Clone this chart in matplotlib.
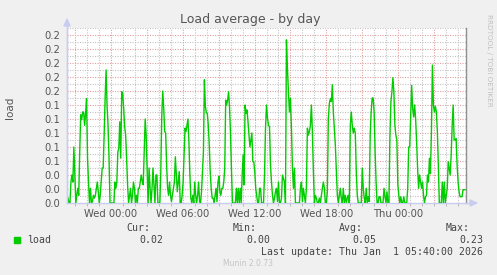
import numpy as np
import pandas as pd
import matplotlib
matplotlib.use("Agg")
import matplotlib.pyplot as plt
import matplotlib.dates as mdates

# load average samples (5 min) in four stretches
load_a = [0.007, 0, 0, 0.030, 0.040, 0.030, 0.080, 0.040, 0, 0.011,
          0.021, 0.011, 0.073, 0.126, 0.119, 0.130, 0.130, 0.111, 0.128, 0.149,
          0.064, 0.030, 0, 0.021, 0, 0.002, 0.011, 0.007, 0.011, 0.021,
          0.030, 0.016, 0, 0.011, 0.030, 0.050, 0.050, 0.097, 0.150, 0.190,
          0.138, 0.111, 0.064, 0, 0, 0, 0, 0, 0.030, 0.021,
          0.030, 0.073, 0.078, 0.116, 0.064, 0.159, 0.157, 0.135, 0.109, 0.097,
          0.064, 0.026, 0, 0.011, 0.021, 0, 0.011, 0.030, 0.021, 0,
          0.011, 0, 0.021, 0.021, 0.030, 0.040, 0.030, 0.026, 0.073, 0.120,
          0.097, 0.050, 0, 0.050, 0.021, 0, 0.021, 0.050, 0.026, 0,
          0.040, 0.040, 0, 0, 0, 0.045, 0.126]
load_b = [0.160, 0.135, 0.102, 0.100, 0.054, 0.021, 0.011, 0.030, 0.011, 0.002,
          0.011, 0.021, 0.030, 0.066, 0.040, 0.016, 0.030, 0.045, 0, 0,
          0.011, 0.030, 0.069, 0.107, 0.102, 0.111, 0.120, 0.088, 0.040, 0.007,
          0, 0.011, 0, 0.030, 0.011, 0, 0.011, 0.030, 0.002, 0,
          0.016, 0.045, 0.073, 0.176, 0.138, 0.129, 0.128, 0.111, 0.083, 0.045,
          0.021, 0.007, 0.007, 0, 0.011, 0.021, 0.002, 0.030, 0.038, 0.016,
          0.011, 0.021, 0.021, 0.030, 0.050, 0.147, 0.140, 0.147, 0.159, 0.135,
          0.097, 0.045, 0, 0, 0, 0, 0.021, 0, 0.021, 0,
          0.021, 0, 0.040, 0.069, 0.026, 0.140, 0.128, 0.133, 0.116, 0.097,
          0.080, 0.090, 0.100, 0.059, 0.059, 0.045, 0.021, 0.011, 0, 0,
          0.021, 0.021, 0]
load_c = [0, 0, 0.040, 0.107, 0.140, 0.121, 0.111, 0.109, 0.054, 0.030,
          0.011, 0, 0.007, 0.016, 0.021, 0.002, 0.030, 0, 0, 0.007,
          0.040, 0.035, 0.030, 0, 0.233, 0.192, 0.159, 0.130, 0.150, 0.107,
          0.050, 0.021, 0.050, 0, 0, 0, 0, 0, 0.021, 0.030,
          0.002, 0.021, 0.011, 0, 0.021, 0.107, 0.097, 0.102, 0.111, 0.140,
          0.102, 0.045, 0, 0.011, 0.007, 0, 0, 0.007, 0, 0.011,
          0.021, 0.030, 0.021, 0, 0, 0.016, 0.121, 0.142, 0.149, 0.145,
          0.169, 0.130, 0.107, 0.083, 0.045, 0.011, 0, 0.011, 0.021, 0.007,
          0, 0.021, 0, 0.011, 0, 0.007, 0.011, 0, 0.111, 0.130,
          0.111, 0.100, 0.107, 0.100, 0.045, 0.011, 0, 0, 0, 0,
          0.050]
load_d = [0.021, 0.007, 0, 0.021, 0, 0.009, 0.002, 0.097, 0.130, 0.150,
          0.150, 0.130, 0.073, 0.030, 0, 0, 0.009, 0.009, 0, 0,
          0, 0.021, 0.009, 0, 0.016, 0, 0, 0.097, 0.145, 0.159,
          0.179, 0.159, 0.111, 0.097, 0.090, 0.026, 0.011, 0, 0.009, 0,
          0, 0.009, 0, 0, 0, 0.021, 0.080, 0.080, 0.126, 0.168,
          0.135, 0.123, 0.140, 0.120, 0.088, 0.050, 0.021, 0.040, 0.030, 0.021,
          0.030, 0.011, 0, 0.009, 0.011, 0.040, 0.030, 0.064, 0.042, 0.102,
          0.197, 0.140, 0.130, 0.138, 0.130, 0.102, 0.054, 0, 0, 0,
          0.030, 0, 0.030, 0, 0.011, 0.021, 0.059, 0.050, 0.040, 0.069,
          0.111, 0.140, 0.090, 0.090, 0.092, 0.054, 0.030, 0.016, 0.009, 0.009,
          0.009, 0.019, 0.019, 0.019]

# where each stretch begins / the graph ends
seg_starts = ["2025-12-30 20:25", "2025-12-31 04:20", "2025-12-31 12:40",
              "2025-12-31 21:05", "2026-01-01 05:40"]
segments = [load_a, load_b, load_c, load_d]

times = []
for i, seg in enumerate(segments):
    t = pd.date_range(seg_starts[i], seg_starts[i + 1], periods=len(seg) + 1)[:-1]
    times.extend(t)
times = pd.DatetimeIndex(times)
load = np.concatenate(segments)

t_min = pd.Timestamp("2025-12-30 20:20")
t_max = pd.Timestamp("2026-01-01 05:40")
xtick_times = pd.date_range("2025-12-31 00:00", "2026-01-01 00:00", freq="6h")
xtick_labels = ["Wed 00:00", "Wed 06:00", "Wed 12:00", "Wed 18:00", "Thu 00:00"]

stats = {"Cur:": "0.02", "Min:": "0.00", "Avg:": "0.05", "Max:": "0.23"}

W, H = 497, 275
fig = plt.figure(figsize=(W / 100, H / 100), dpi=100, facecolor="#f0f0f0")
ax = fig.add_axes([67 / W, 1 - 203 / H, 399 / W, 175 / H])
ax.set_facecolor("white")

minor_c = "#c4c4c4"
major_c = "#e2a0a0"
# grid like rrdtool: minor grey, major red-ish, both dotted
for v in np.arange(0.01, 0.251, 0.01):
    major = round(v * 100) % 2 == 0
    ax.axhline(v, color=major_c if major else minor_c, lw=0.8,
               ls=(0, (1, 1.25)), zorder=1)
hours = pd.date_range("2025-12-30 21:00", "2026-01-01 05:00", freq="1h")
for t in hours:
    major = t.hour % 3 == 0
    ax.axvline(t, color=major_c if major else minor_c, lw=0.8,
               ls=(0, (1, 1.25)), zorder=1)

ax.plot(times, load, color="#00cc00", lw=1.0, zorder=3)

ax.set_xlim(t_min, t_max)
ax.set_ylim(0, 0.25)
ax.set_yticks(np.arange(0, 0.241, 0.02))
ax.set_yticklabels([f"{v:.1f}" for v in np.arange(0, 0.241, 0.02)])
ax.set_xticks(xtick_times)
ax.set_xticklabels(xtick_labels)
ax.set_xticks(hours, minor=True)
ax.tick_params(axis="both", labelsize=7.2, colors="#555555", length=0, pad=4)
ax.tick_params(axis="x", which="minor", length=2, color="#b0b0b0", direction="out")
ax.tick_params(axis="y", pad=5)

ax.spines["top"].set_visible(False)
ax.spines["left"].set_color("#c8cdf0")
ax.spines["bottom"].set_color("#c8cdf0")
ax.spines["right"].set_color("#909090")
for s in ["left", "bottom", "right"]:
    ax.spines[s].set_linewidth(1.0)

# axis arrows
fig.patches.append(plt.Polygon([[64 / W, 1 - 26 / H], [70 / W, 1 - 26 / H],
                                [67 / W, 1 - 19 / H]], closed=True,
                               transform=fig.transFigure, color="#c8cdf0"))
fig.add_artist(plt.Line2D([67 / W, 67 / W], [1 - 203 / H, 1 - 24 / H],
                          color="#c8cdf0", lw=1.0))
fig.add_artist(plt.Line2D([466 / W, 471 / W], [1 - 203 / H, 1 - 203 / H],
                          color="#c8cdf0", lw=1.0))
fig.patches.append(plt.Polygon([[470 / W, 1 - 200 / H], [470 / W, 1 - 206 / H],
                                [477 / W, 1 - 203 / H]], closed=True,
                               transform=fig.transFigure, color="#c8cdf0"))

fig.text(250 / W, 1 - 19 / H, "Load average - by day", ha="center", va="center",
         fontsize=9, color="#555555")
fig.text(10 / W, 1 - 108 / H, "load", rotation=90, ha="center", va="center",
         fontsize=7.5, color="#555555")
fig.text(489 / W, 1 - 60 / H, "RRDTOOL / TOBI OETIKER", rotation=270,
         ha="center", va="center", fontsize=5.2, color="#c0c0c0")

# legend block
mono = "DejaVu Sans Mono"
fig.patches.append(plt.Rectangle((14 / W, 1 - 243 / H), 6 / W, 6 / H,
                                 transform=fig.transFigure, color="#00cc00"))
fig.text(27 / W, 1 - 240 / H, "load", family=mono, fontsize=7.1,
         color="#444444", va="center")
label_x = [150, 257, 363, 470]
for (name, val), lx in zip(stats.items(), label_x):
    fig.text(lx / W, 1 - 228 / H, name, family=mono, fontsize=7.1,
             color="#444444", ha="right", va="center")
    fig.text((lx + 13) / W, 1 - 240 / H, val, family=mono, fontsize=7.1,
             color="#444444", ha="right", va="center")
fig.text(483 / W, 1 - 252 / H, "Last update: Thu Jan  1 05:40:00 2026",
         family=mono, fontsize=7.1, color="#444444", ha="right", va="center")
fig.text(248 / W, 1 - 264 / H, "Munin 2.0.73", fontsize=5.5, color="#c4c4c4",
         ha="center", va="center")

fig.savefig("out.png", dpi=100, facecolor=fig.get_facecolor())
